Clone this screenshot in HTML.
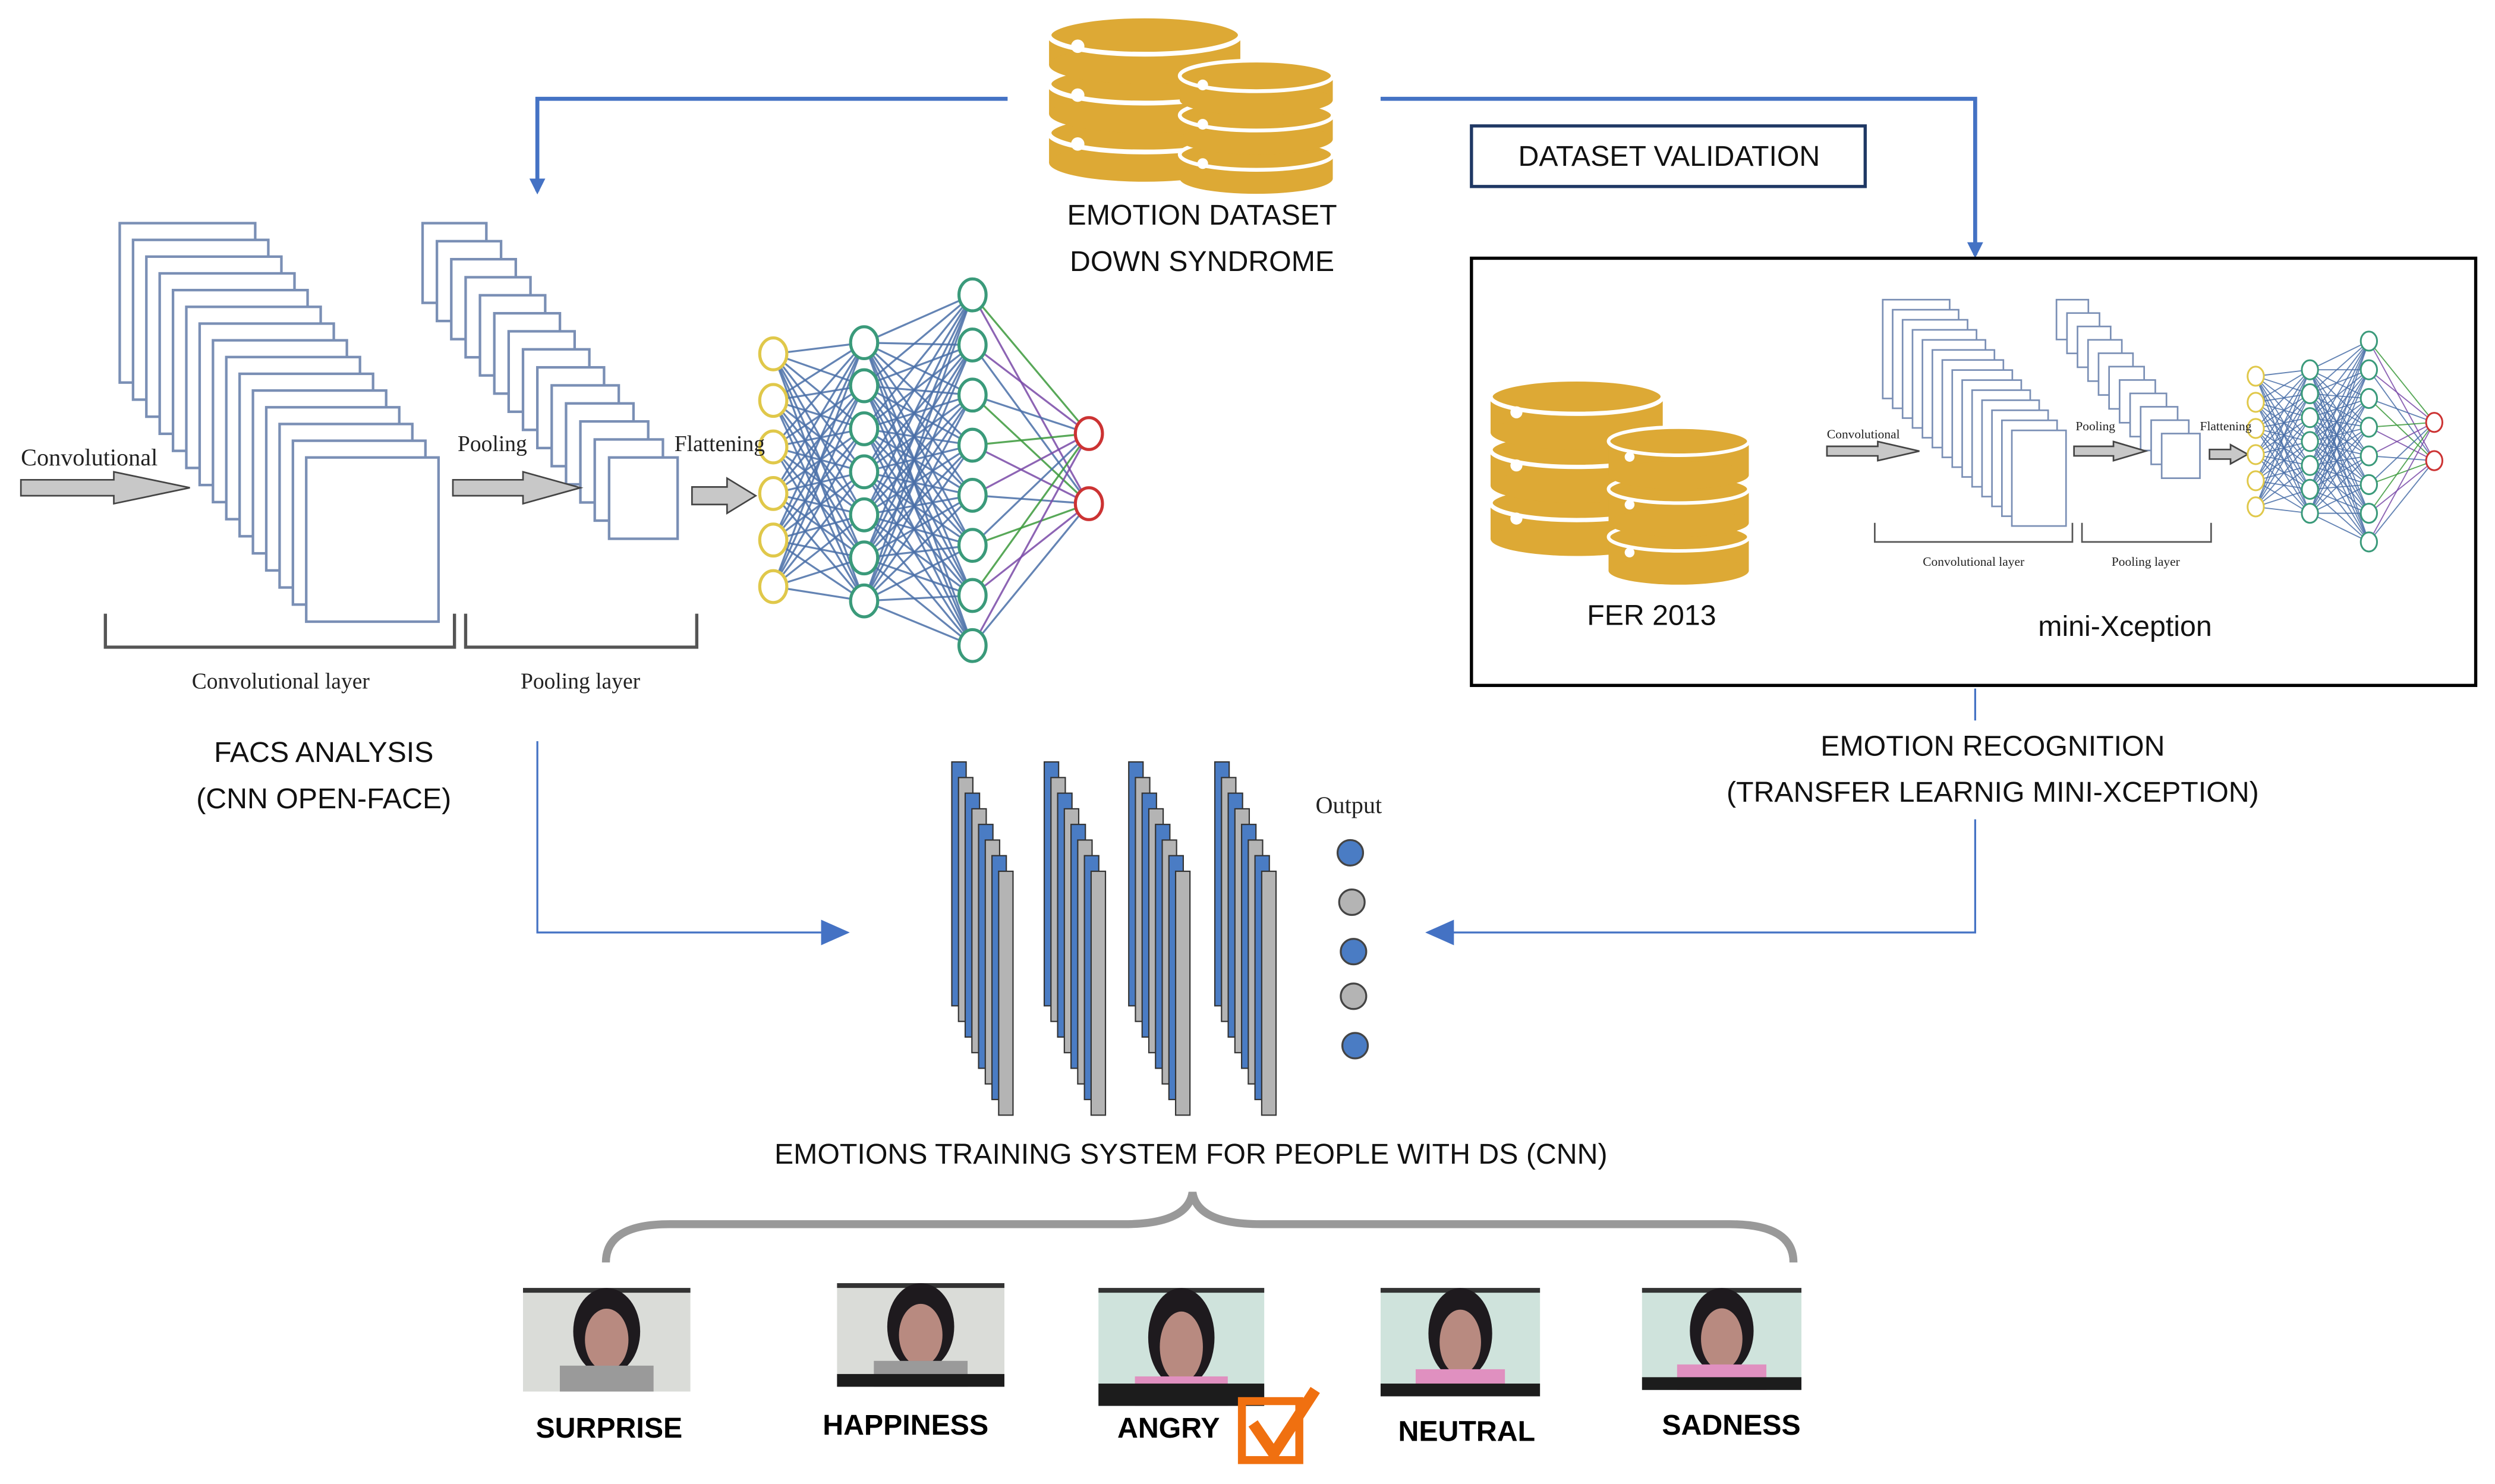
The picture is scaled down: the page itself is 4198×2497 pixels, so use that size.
<!DOCTYPE html>
<html><head><meta charset="utf-8"><style>
html,body{margin:0;padding:0;background:#fff;width:4198px;height:2497px;overflow:hidden}
svg{display:block}
.c{font-family:"Liberation Sans",sans-serif;font-size:18px;fill:#111;text-anchor:middle}
.s{font-family:"Liberation Serif",serif;fill:#222}
.b{font-family:"Liberation Sans",sans-serif;font-weight:bold;font-size:18px;fill:#000;text-anchor:middle}
</style></head><body>
<svg id="sv" width="4198" height="2497" viewBox="0 0 1565 931" xmlns="http://www.w3.org/2000/svg">
<defs>
<marker id="ah" markerWidth="10" markerHeight="10" refX="8" refY="5" orient="auto" markerUnits="userSpaceOnUse"><path d="M0,0 L10,5 L0,10 z" fill="#4472C4"/></marker>
<marker id="ah2" markerWidth="18" markerHeight="16" refX="16" refY="8" orient="auto" markerUnits="userSpaceOnUse"><path d="M0,0 L18,8 L0,16 z" fill="#4472C4"/></marker>
</defs>
<g id="g"></g>
<polyline points="632,62 337,62 337,120" fill="none" stroke="#4472C4" stroke-width="2.5" marker-end="url(#ah)"/>
<polyline points="866,62 1239,62 1239,160" fill="none" stroke="#4472C4" stroke-width="2.5" marker-end="url(#ah)"/>
<polyline points="337,465 337,585 531,585" fill="none" stroke="#4472C4" stroke-width="1.2" marker-end="url(#ah2)"/>
<polyline points="1239,432 1239,585 896,585" fill="none" stroke="#4472C4" stroke-width="1.2" marker-end="url(#ah2)"/>
<rect x="1030" y="452" width="440" height="62" fill="#fff"/>
<rect x="923" y="79" width="247" height="38" fill="#fff" stroke="#1F3864" stroke-width="2"/>
<text class="c" x="1047" y="104" font-size="16">DATASET VALIDATION</text>
<rect x="923" y="162" width="630" height="268" fill="none" stroke="#000" stroke-width="2"/>
<text class="c" x="754" y="141">EMOTION DATASET</text>
<text class="c" x="754" y="170">DOWN SYNDROME</text>
<text class="s" x="13" y="292" font-size="15">Convolutional</text>
<text class="s" x="287" y="283" font-size="14">Pooling</text>
<text class="s" x="423" y="283" font-size="14">Flattening</text>
<path d="M66,385 V406 H285 V385 M292,385 V406 H437 V385" fill="none" stroke="#555" stroke-width="2"/>
<text class="s" x="176" y="432" font-size="14" text-anchor="middle">Convolutional layer</text>
<text class="s" x="364" y="432" font-size="14" text-anchor="middle">Pooling layer</text>
<text class="c" x="203" y="478">FACS ANALYSIS</text>
<text class="c" x="203" y="507">(CNN OPEN-FACE)</text>
<text class="c" x="1036" y="392" font-size="16">FER 2013</text>
<text class="c" x="1333" y="399" font-size="16">mini-Xception</text>
<text class="s" x="1146" y="275" font-size="8">Convolutional</text>
<text class="s" x="1302" y="270" font-size="8">Pooling</text>
<text class="s" x="1380" y="270" font-size="8">Flattening</text>
<path d="M1176,328 V340 H1300 V328 M1306,328 V340 H1387 V328" fill="none" stroke="#555" stroke-width="1"/>
<text class="s" x="1238" y="355" font-size="8" text-anchor="middle">Convolutional layer</text>
<text class="s" x="1346" y="355" font-size="8" text-anchor="middle">Pooling layer</text>
<text class="c" x="1250" y="474">EMOTION RECOGNITION</text>
<text class="c" x="1250" y="503">(TRANSFER LEARNIG MINI-XCEPTION)</text>
<text class="s" x="846" y="510" font-size="15" text-anchor="middle">Output</text>
<text class="c" x="747" y="730">EMOTIONS TRAINING SYSTEM FOR PEOPLE WITH DS (CNN)</text>
<path d="M380,792 Q380,768 420,768 L705,768 Q745,768 748,748 Q751,768 791,768 L1085,768 Q1125,768 1125,792" fill="none" stroke="#999" stroke-width="5"/>
<text class="b" x="382" y="902">SURPRISE</text>
<text class="b" x="568" y="900">HAPPINESS</text>
<text class="b" x="733" y="902">ANGRY</text>
<text class="b" x="920" y="904">NEUTRAL</text>
<text class="b" x="1086" y="900">SADNESS</text>
</svg>
<script>
var NS="http://www.w3.org/2000/svg",G=document.getElementById("g");
function el(t,a){var e=document.createElementNS(NS,t);for(var k in a)e.setAttribute(k,a[k]);G.appendChild(e);return e;}
function db(x,y,w,h){
  var dh=h/3,ry=w*0.1;
  for(var i=2;i>=0;i--){var yy=y+i*dh;
    el("rect",{x:x,y:yy+ry,width:w,height:dh-ry,fill:"#DDA935"});
    el("ellipse",{cx:x+w/2,cy:yy+dh,rx:w/2,ry:ry,fill:"#DDA935"});
    el("ellipse",{cx:x+w/2,cy:yy+ry,rx:w/2,ry:ry,fill:"#DDA935",stroke:"#fff","stroke-width":w*0.025});
    el("circle",{cx:x+w*0.15,cy:yy+dh*0.62,r:w*0.035,fill:"#fff"});
  }
}
db(658,10,120,92);db(740,38,96,74);
db(935,238,108,100);db(1009,268,88,90);
function stack(n,x0,y0,w0,h0,x1,y1,w1,h1,sw){
  for(var i=0;i<n;i++){var t=i/(n-1);
    el("rect",{x:x0+(x1-x0)*t,y:y0+(y1-y0)*t,width:w0+(w1-w0)*t,height:h0+(h1-h0)*t,fill:"#fff",stroke:"#7a8fb5","stroke-width":sw});}
}
stack(15,75,140,85,100,192,287,83,103,1.6);
stack(14,265,140,40,50,382,287,43,51,1.6);
stack(14,1181,188,42,62,1262,270,34,60,1);
stack(11,1290,188,20,25,1356,272,24,28,1);
function arrow(x,y,L,H){el("path",{d:"M"+x+","+(y-H*0.25)+" h"+(L*0.55)+" v"+(-H*0.25)+" L"+(x+L)+","+y+" L"+(x+L*0.55)+","+(y+H/2)+" v"+(-H*0.25)+" h"+(-L*0.55)+"z",fill:"#c8c8c8",stroke:"#444","stroke-width":1});}
arrow(13,306,106,20);arrow(284,306,80,20);arrow(434,311,40,22);
arrow(1146,283,58,12);arrow(1301,283,45,12);arrow(1386,285,24,12);
function nn(L,cols,r,sw){
  var layers=L.map(function(l){var a=[];for(var i=0;i<l.n;i++)a.push([l.x,l.y0+(l.y1-l.y0)*i/(l.n-1)]);return a;});
  for(var k=0;k<layers.length-1;k++)layers[k].forEach(function(p,pi){layers[k+1].forEach(function(q,qi){
    var c="#4a6fa8"; if(k==2) c=((pi+qi)%3==0)?"#3c9a3c":((pi+qi)%3==1?"#7a4aa8":"#4a6fa8");
    el("line",{x1:p[0],y1:p[1],x2:q[0],y2:q[1],stroke:c,"stroke-width":sw,opacity:0.85});});});
  layers.forEach(function(a,k){a.forEach(function(p){el("ellipse",{cx:p[0],cy:p[1],rx:r*0.85,ry:r,fill:"#fff",stroke:cols[k],"stroke-width":sw*1.6});});});
}
nn([{x:485,n:6,y0:222,y1:368},{x:542,n:7,y0:215,y1:377},{x:610,n:8,y0:185,y1:405},{x:683,n:2,y0:272,y1:316}],["#e0c84a","#3a9a7a","#3a9a7a","#cc3333"],10,1.2);
nn([{x:1415,n:6,y0:236,y1:318},{x:1449,n:7,y0:232,y1:322},{x:1486,n:8,y0:214,y1:340},{x:1527,n:2,y0:265,y1:289}],["#e0c84a","#3a9a7a","#3a9a7a","#cc3333"],6,0.7);
[597,655,708,762].forEach(function(gx){for(var i=0;i<8;i++){el("rect",{x:gx+4.2*i,y:478+9.8*i,width:9,height:153,fill:i%2?"#b4b4b4":"#4a7cc4",stroke:"#333","stroke-width":0.8});}});
[[847,535,"#4a7cc4"],[848,566,"#b4b4b4"],[849,597,"#4a7cc4"],[849,625,"#b4b4b4"],[850,656,"#4a7cc4"]].forEach(function(c){el("circle",{cx:c[0],cy:c[1],r:8,fill:c[2],stroke:"#444","stroke-width":1.2});});
function photo(x,y,w,h,pink,bar){
  el("rect",{x:x,y:y,width:w,height:h,fill:pink?"#cfe3dc":"#dadcd8"});
  el("rect",{x:x,y:y,width:w,height:3,fill:"#333"});
  el("ellipse",{cx:x+w*0.5,cy:y+h*0.42,rx:w*0.2,ry:h*0.42,fill:"#1e1a1e"});
  el("ellipse",{cx:x+w*0.5,cy:y+h*0.5,rx:w*0.13,ry:h*0.3,fill:"#b88a80"});
  el("rect",{x:x+w*0.22,y:y+h*0.75,width:w*0.56,height:h*0.25,fill:pink?"#e090c0":"#9a9a9a"});
  if(bar) el("rect",{x:x,y:y+h-bar,width:w,height:bar,fill:"#1c1c1c"});
}
photo(328,808,105,65,0,0);photo(525,805,105,65,0,8);photo(689,808,104,74,1,14);photo(866,808,100,68,1,8);photo(1030,808,100,64,1,8);
el("rect",{x:779,y:879,width:36,height:37,fill:"none",stroke:"#f07010","stroke-width":5});
el("path",{d:"M786,893 L799,912 L825,872",fill:"none",stroke:"#f07010","stroke-width":7});
</script>
</body></html>
